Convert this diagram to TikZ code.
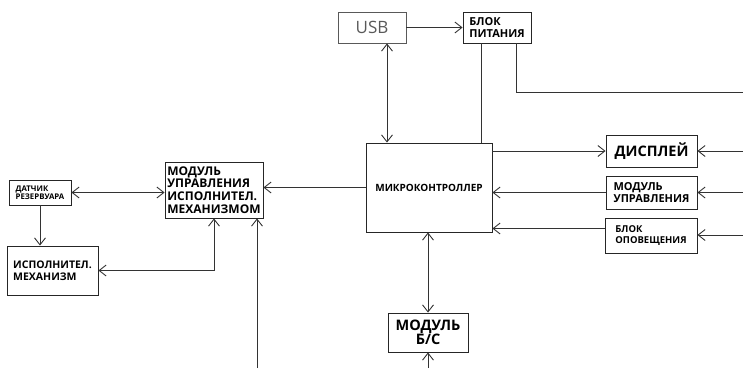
\documentclass[tikz,border=0pt]{standalone}
\usepackage{fontspec}
\setmainfont{Open Sans}
\usepackage{tikz}
\usetikzlibrary{arrows.meta, positioning, calc}

\tikzset{
    blok/.style={draw=black!85, line width=0.9pt, inner sep=2pt, align=left,
        font=\bfseries, text=black},
    svyaz/.style={draw=black!80, line width=0.9pt},
}

\begin{document}
\begin{tikzpicture}[x=1pt, y=-1pt, >={Straight Barb[length=7pt, width=11pt]}]
    \useasboundingbox (0,0) rectangle (743,368);
    % 1. Power and USB
    \node[blok, draw=black!65, font=\fontsize{17}{17}\selectfont, text=black!65,
        minimum width=68pt, minimum height=31pt] (usb) at (372,27.5) {USB};
    \node[blok, font=\fontsize{11}{11.5}\selectfont\bfseries,
        minimum width=68pt, minimum height=31pt] (pit) at (497,27.5) {БЛОК\\ПИТАНИЯ};
    % 2. Microcontroller
    \node[blok, font=\fontsize{10}{10}\selectfont\bfseries,
        minimum width=126pt, minimum height=89pt] (mc) at (429,187.5) {МИКРОКОНТРОЛЛЕР};
    % 3. Right side blocks
    \node[blok, font=\fontsize{14.5}{14.5}\selectfont\bfseries,
        minimum width=91pt, minimum height=32pt] (disp) at (651.5,151) {ДИСПЛЕЙ};
    \node[blok, font=\fontsize{11}{11.5}\selectfont\bfseries,
        minimum width=91pt, minimum height=33pt] (mu) at (651.5,192.5) {МОДУЛЬ\\УПРАВЛЕНИЯ};
    \node[blok, font=\fontsize{9.5}{11}\selectfont\bfseries,
        minimum width=92pt, minimum height=35pt] (opov) at (651,235.5) {БЛОК\\ОПОВЕЩЕНИЯ};
    % 4. Left side blocks
    \node[blok, font=\fontsize{12}{12.8}\selectfont\bfseries,
        minimum width=98pt, minimum height=56pt] (muim) at (214,190)
        {МОДУЛЬ\\УПРАВЛЕНИЯ\\ИСПОЛНИТЕЛ.\\МЕХАНИЗМОМ};
    \node[blok, font=\fontsize{7.8}{8.5}\selectfont\bfseries,
        minimum width=62pt, minimum height=25pt] (dat) at (40,192.5) {ДАТЧИК\\РЕЗЕРВУАРА};
    \node[blok, font=\fontsize{10.5}{11.5}\selectfont\bfseries,
        minimum width=91pt, minimum height=49pt] (im) at (52.5,270.5) {ИСПОЛНИТЕЛ.\\МЕХАНИЗМ};
    % 5. Bottom block
    \node[blok, font=\fontsize{14.5}{14.5}\selectfont\bfseries, align=center,
        minimum width=80pt, minimum height=39pt] (bs) at (428,332.5) {МОДУЛЬ\\Б/С};
    % Free ends
    \coordinate (pwrout) at (743,92);
    \coordinate (dispin) at (743,151);
    \coordinate (muin) at (743,192.5);
    \coordinate (opovin) at (743,235);
    \coordinate (muimin) at (257,368);
    \coordinate (bsin) at (428,368);
    % 6. Connections
    \draw[svyaz, ->] (usb) -- (pit);
    \draw[svyaz] ([xshift=-16pt]pit.south) -- ([xshift=-16pt]pit.south |- mc.north);
    \draw[svyaz] ([xshift=19pt]pit.south) |- (pwrout);
    \draw[svyaz, <->] ([xshift=15pt]usb.south) -- ([xshift=15pt]usb.south |- mc.north);
    \draw[svyaz, ->] (disp.west -| mc.east) -- (disp.west);
    \draw[svyaz, ->] (mu.west) -- (mu.west -| mc.east);
    \draw[svyaz, ->] ([yshift=7pt]opov.west) -- ([yshift=7pt]opov.west -| mc.east);
    \draw[svyaz, ->] (dispin) -- (disp.east);
    \draw[svyaz, ->] (muin) -- (mu.east);
    \draw[svyaz, ->] (opovin) -- (opovin -| opov.east);
    \draw[svyaz, ->] (mc.west) -- (mc.west -| muim.east);
    \draw[svyaz, <->] (dat.east) -- (dat.east -| muim.west);
    \draw[svyaz, ->] (dat.south) -- (dat.south |- im.north);
    \draw[svyaz, <->] (im.east) -| (muim.south);
    \draw[svyaz, ->] (muimin) -- (muimin |- muim.south);
    \draw[svyaz, <->] (bs.north) -- (bs.north |- mc.south);
    \draw[svyaz, ->] (bsin) -- (bs.south);
\end{tikzpicture}
\end{document}
